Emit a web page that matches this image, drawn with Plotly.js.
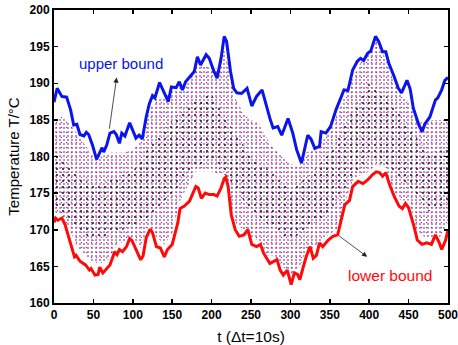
<!DOCTYPE html>
<html>
<head>
<meta charset="utf-8">
<script src="https://cdn.plot.ly/plotly-3.0.1.min.js"></script>
<style>html,body{margin:0;padding:0;background:#fff;}#chart{width:458px;height:345px;}</style>
</head>
<body>
<div id="chart"></div>
<script>
// Upper bound (blue)
const upperT = [0,4,10,16,21,25,29,33,38,41,44,49,54,58,61,63,67,71,76,79,83,86,90,96,100,104,108,112,117,121,125,128,134,139,145,149,155,159,163,167,174,178,182,186,193,197,203,207,212,216,219,224,228,232,238,245,251,257,264,268,274,278,284,289,297,303,308,314,318,322,326,331,337,339,345,351,358,364,368,373,379,385,389,393,398,402,408,412,417,421,425,431,437,441,444,448,452,456,463,467,471,477,484,487,492,496,500];
const upperV = [187.4,189.3,188.2,188.1,186.4,184.3,184.4,183,182.8,183.3,183,181.5,179.6,180.5,181.2,180.6,181.6,183.2,183.4,183,181.8,183.2,182.8,184.6,183.4,182.5,182.9,182.4,185.4,187.2,188.3,188,190.1,189,187.5,189.5,189.4,190.2,189.1,190.2,191.1,191.6,193.6,192.5,193.9,193.4,191.6,190.7,193.4,196.4,195.7,191.6,189.3,188.7,188.6,189.3,186.9,188.2,189.1,187.5,185.2,183.9,184.1,182.9,185.2,183.2,180.9,179.1,180.9,182.9,182.4,181.1,181.4,183.4,183.2,184.1,186.4,188.2,189.1,189,191.8,193,193.4,193.1,194.1,194.4,196.4,195.7,194.3,194.3,192.7,191.1,189.3,188.7,189.5,190.4,189.2,186.6,184.3,183.4,184.5,185.4,187.7,188,189.1,190.4,190.8];

// Lower bound (red)
const lowerT = [0,2,5,10,14,18,23,26,28,33,40,45,47,52,56,58,62,67,71,77,80,83,87,92,96,99,104,110,113,117,122,125,130,135,140,144,150,153,157,160,165,172,176,180,183,187,192,197,203,207,212,216,218,221,225,230,235,241,246,251,257,262,266,274,283,287,291,296,301,305,309,312,316,320,325,329,333,337,341,348,354,360,364,369,375,379,386,392,398,404,409,413,417,421,426,432,438,442,446,450,457,461,467,473,479,484,489,492,497,500];
const lowerV = [171,171.6,171.3,171.6,170.7,169.3,167.3,166.3,166.5,165.7,165.2,164.5,164.7,163.8,163.9,164.9,164.1,164.8,165.2,167,166.6,167.3,167,167.7,168.8,168.5,167.3,165.9,166.4,168.9,170.1,169.6,167.7,167.5,166.3,167.3,168,169.3,170.9,172.9,173.2,173.9,175,175.9,175.7,174.3,175,174.8,174.8,174.6,175.7,177,177.2,175.9,172,170,169.1,169.3,170,168,167.7,168,166.8,165.4,165.9,164.5,163.8,164.5,162.5,164.1,163.9,163.2,164.8,166.3,167.7,166.1,166.5,168.2,167.7,168.6,169.1,169.3,171.1,173.4,174,175.9,176.6,176.3,176.8,177.5,177.9,177.8,177.3,177.8,176.1,174.5,173.2,172.9,173.6,173,170.4,168.6,168,168.2,168,169.3,168.2,167.3,168.6,170];

// Extent of the cloud of simulated trajectories (dotted)
const cloudT = [0,10,20,30,40,50,60,70,80,90,100,110,120,130,140,150,160,170,180,190,200,210,215,220,230,240,250,260,270,280,290,300,310,320,330,340,350,360,370,380,390,400,408,420,430,440,450,460,470,480,490,500];
const cloudTop = [185,185.5,184.5,183,181.5,180,180,180.5,180.5,180.5,181,182,186,188,188,189,189.5,190,192.5,192.5,192,192,195,193,188,186,185,184.5,182.5,181,180,179,178.5,180.5,181,182,183.5,186,188.5,191,193,194,196.5,193.5,190.5,188.5,187.5,185,184.5,185,185,185];
const cloudLowT = [0,10,20,30,40,50,60,70,80,90,100,110,120,130,140,150,160,170,180,190,200,210,218,225,230,240,250,260,270,280,290,300,310,320,330,340,350,360,370,380,390,400,410,420,430,440,450,460,470,480,490,500];
const cloudLow = [172.5,172,170,167.5,166.5,165.5,165.5,166,168,168.5,169,167.5,170.5,169,168,169.5,174,176,178,178,178,177.5,178,173,171,170,169,168.5,166.5,166.5,165,164,164.5,167,167.5,168.5,169.5,170,174,177,177.5,178,179,178.5,175.5,174,174,170,169,169,169,171];

// Denser core of the cloud
const coreT = [0,25,50,75,100,125,150,175,200,225,250,275,300,325,350,375,400,425,450,475,500];
const coreLow = [173,170.5,168.5,169.5,170.5,172,174.5,178.5,179.5,176.5,172.5,170.5,168.5,170.5,172.5,176.5,180,178.5,176,172.5,173.5];
const coreHigh = [180.5,178,176,177,178,182,185,187.5,188.5,184,180,178,175.5,177.5,180.5,185.5,190,188,184,180.5,181];

const xTicks = [0,50,100,150,200,250,300,350,400,450,500];
const yTicks = [160,165,170,175,180,185,190,195,200];

const FONT = 'Liberation Sans, Arial, sans-serif';
const blue = 'rgb(10,20,235)';
const red = 'rgb(255,10,10)';

const base = {type:'scatter', mode:'lines', hoverinfo:'skip', showlegend:false};
const hidden = {width:0, color:'rgba(0,0,0,0)'};
function band(lx, ly, hx, hy, color, size, solidity) {
  return [
    Object.assign({}, base, {x: lx, y: ly, line: hidden}),
    Object.assign({}, base, {x: hx, y: hy, line: hidden,
      fill:'tonexty', fillcolor:'rgba(0,0,0,0)',
      fillpattern:{shape:'.', fgcolor:color, bgcolor:'rgba(0,0,0,0)', size:size, solidity:solidity, fillmode:'replace'}})
  ];
}
const traces = [].concat(
  band(cloudLowT, cloudLow, cloudT, cloudTop, '#000000', 4, 0.09),
  band(cloudLowT, cloudLow, cloudT, cloudTop, '#ff00ff', 5, 0.07),
  band(coreT, coreLow, coreT, coreHigh, '#000000', 6, 0.07),
  [
    Object.assign({}, base, {x: upperT, y: upperV, line:{width:3, color:blue}}),
    Object.assign({}, base, {x: lowerT, y: lowerV, line:{width:3, color:red}})
  ]
);

const axisCommon = {
  showline:true, linecolor:'#000', linewidth:2, mirror:'ticks',
  ticks:'inside', ticklen:4, tickwidth:1.5, tickcolor:'#000',
  showgrid:false, zeroline:false, ticklabeloverflow:'allow',
  tickfont:{family:FONT, size:12, color:'#000', weight:'bold'}
};

const layout = {
  width:458, height:345,
  margin:{l:54, r:10, t:10, b:42},
  paper_bgcolor:'#fff', plot_bgcolor:'#fff',
  showlegend:false,
  xaxis: Object.assign({}, axisCommon, {range:[0,500], tickvals:xTicks, ticktext:xTicks.map(v => '<b>' + v + '</b>'),
    title:{text:'t (\u0394t=10s)', font:{family:FONT, size:15.5, color:'#000'}, standoff:10}}),
  yaxis: Object.assign({}, axisCommon, {range:[160,200], tickvals:yTicks, ticktext:yTicks.map(v => '<b>' + v + '</b>'),
    title:{text:'Temperature T/\u00B0C', font:{family:FONT, size:15, color:'#000'}, standoff:6}}),
  annotations:[
    {x:79.5, y:190.8, ax:70, ay:183.6, xref:'x', yref:'y', axref:'x', ayref:'y', text:'', showarrow:true,
     arrowhead:2, arrowsize:1.3, arrowwidth:0.8, arrowcolor:'#222'},
    {x:397.5, y:166.3, ax:360, ay:169.3, xref:'x', yref:'y', axref:'x', ayref:'y', text:'', showarrow:true,
     arrowhead:2, arrowsize:1.3, arrowwidth:0.8, arrowcolor:'#222'},
    {x:85, y:192.7, xref:'x', yref:'y', text:'upper bound', showarrow:false,
     font:{family:FONT, size:15, color:blue}},
    {x:426, y:163.8, xref:'x', yref:'y', text:'lower bound', showarrow:false,
     font:{family:FONT, size:15.5, color:red}}
  ]
};

Plotly.newPlot('chart', traces, layout, {displayModeBar:false, staticPlot:true});
</script>
</body>
</html>
